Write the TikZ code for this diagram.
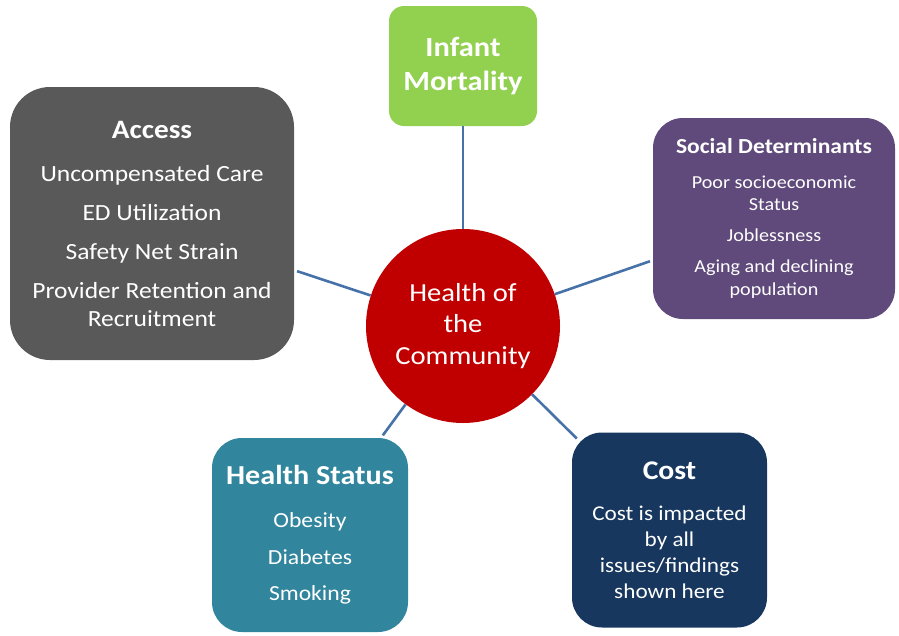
\documentclass[tikz,border=0pt]{standalone}
\usepackage{fontspec}
\setmainfont{Carlito}[FakeStretch=1.1]
\usetikzlibrary{positioning}

\definecolor{hubred}{HTML}{C00000}
\definecolor{infantgreen}{HTML}{92D050}
\definecolor{accessgray}{HTML}{595959}
\definecolor{socialpurple}{HTML}{604A7B}
\definecolor{statusteal}{HTML}{31859C}
\definecolor{costnavy}{HTML}{17375E}
\definecolor{linkblue}{HTML}{4672A8}

\tikzset{
  box/.style={rounded corners=30pt, text=white, align=center, inner sep=0pt},
  hub/.style={circle, fill=hubred, text=white, align=center, inner sep=0pt,
    minimum size=194pt, font=\fontsize{26}{31.5}\selectfont},
  link/.style={draw=linkblue, line width=2.6pt, shorten >=3pt}
}

\begin{document}
\begin{tikzpicture}[x=1pt,y=-1pt]
        \useasboundingbox (0,0) rectangle (899,635);
        \node [hub] (community) at (463,326) {Health of\\the\\Community};
        \node [box, fill=infantgreen, rounded corners=15pt, minimum width=148pt,
          minimum height=120pt, font=\bfseries\fontsize{27.7}{34}\selectfont]
          (infant) at (463,66) {Infant\\Mortality};
        \node [box, fill=accessgray, rounded corners=40pt, minimum width=284pt,
          minimum height=273pt, font=\fontsize{23.2}{28}\selectfont]
          (access) at (152,223.5)
          {{\bfseries\fontsize{26.6}{28}\selectfont Access}\\[15pt]
           Uncompensated Care\\[11pt] ED Utilization\\[11pt] Safety Net Strain\\[11pt]
           Provider Retention and\\Recruitment};
        \node [box, fill=socialpurple, minimum width=242pt, minimum height=201pt,
          font=\fontsize{18.3}{22.5}\selectfont]
          (social) at (774,218.5)
          {{\bfseries\fontsize{21.4}{24}\selectfont Social Determinants}\\[12pt]
           Poor socioeconomic\\Status\\[8.5pt] Joblessness\\[8.5pt]
           Aging and declining\\population};
        \node [box, fill=statusteal, minimum width=196pt, minimum height=194pt,
          font=\fontsize{21.5}{26}\selectfont]
          (status) at (310,535)
          {{\bfseries\fontsize{27.4}{30}\selectfont Health Status}\\[17pt]
           Obesity\\[10.5pt] Diabetes\\[10.5pt] Smoking};
        \node [box, fill=costnavy, minimum width=195pt, minimum height=195pt,
          font=\fontsize{21.1}{26}\selectfont]
          (cost) at (669.5,530)
          {{\bfseries\fontsize{27}{30}\selectfont Cost}\\[15pt]
           Cost is impacted\\by all\\issues/findings\\shown here};
        \draw [link]
         (community) edge [shorten >=0pt] (infant)
         (community) edge (access)
         (community) edge (social)
         (community) edge (status)
         (community) edge [shorten >=-7pt] (cost);
\end{tikzpicture}
\end{document}
